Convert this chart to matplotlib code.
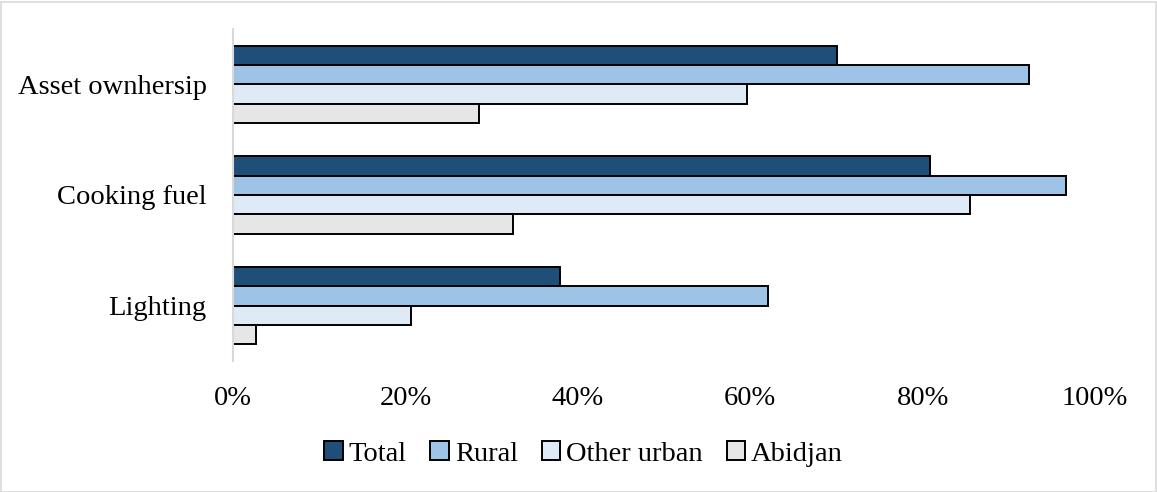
import matplotlib
matplotlib.use("Agg")
import matplotlib.pyplot as plt
from matplotlib.patches import Rectangle
import numpy as np

categories = ["Lighting", "Cooking fuel", "Asset ownhersip"]
series_names = ["Total", "Rural", "Other urban", "Abidjan"]
total = [37.9, 80.9, 70.1]
rural = [62.1, 96.6, 92.4]
other_urban = [20.6, 85.5, 59.6]
abidjan = [2.7, 32.5, 28.5]
x_ticks = [0, 20, 40, 60, 80, 100]
x_tick_labels = ["0%", "20%", "40%", "60%", "80%", "100%"]

colors = ["#1F4E79", "#9DC3E6", "#DEEBF7", "#E7E6E6"]

plt.rcParams['font.family'] = ['Liberation Serif', 'DejaVu Serif']

W, H = 1157, 492
fig = plt.figure(figsize=(W / 100, H / 100), dpi=100)
ax = fig.add_axes([233 / W, 1 - 361 / H, (1095 - 233) / W, (361 - 29) / H])

y = np.arange(len(categories))
h = 0.174
data = [total, rural, other_urban, abidjan]
offsets = [1.5, 0.5, -0.5, -1.5]
for vals, off, col, name in zip(data, offsets, colors, series_names):
    ax.barh(y + off * h, vals, height=h, color=col, edgecolor="black",
            linewidth=1.4, label=name)

fs = 20.5
ax.set_xlim(0, 100)
ax.set_ylim(-0.5, 2.5)
ax.set_yticks(y)
ax.set_yticklabels(categories, fontsize=fs)
ax.set_xticks(x_ticks)
ax.set_xticklabels(x_tick_labels, fontsize=fs)
ax.tick_params(axis='both', length=0)
ax.tick_params(axis='x', pad=18)
ax.tick_params(axis='y', pad=19)
for s in ["top", "right", "bottom"]:
    ax.spines[s].set_visible(False)
ax.spines["left"].set_color("#D9D9D9")
ax.spines["left"].set_linewidth(1.5)

handles, labels = ax.get_legend_handles_labels()
fig.legend(handles, labels, loc="center", bbox_to_anchor=(583.5 / W, 1 - 454 / H),
           ncol=4, frameon=False, fontsize=fs, handlelength=0.65, handleheight=0.65,
           handletextpad=0.2, columnspacing=0.85, borderpad=0)

fig.patches.append(Rectangle((0.5 / W, 0.5 / H), 1 - 2 / W, 1 - 2 / H,
                             transform=fig.transFigure, fill=False,
                             edgecolor="#D9D9D9", linewidth=1.2))

fig.savefig("out.png", dpi=100)
